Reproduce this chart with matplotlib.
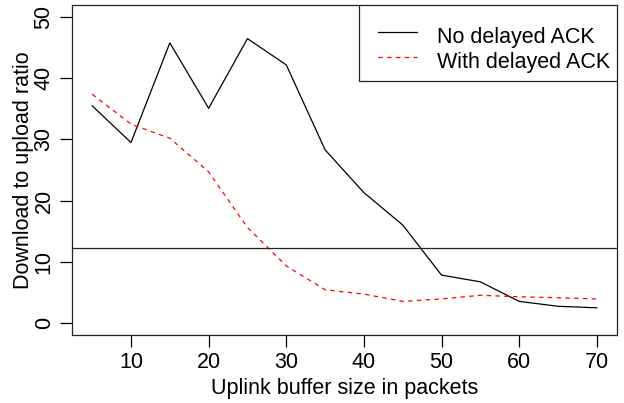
import numpy as np
import matplotlib.pyplot as plt
from matplotlib.patches import Rectangle

plt.rcParams["font.family"] = "Liberation Sans"

# buffer sizes (packets) and measured download/upload ratios
buffer_size = [5, 10, 15, 20, 25, 30, 35, 40, 45, 50, 55, 60, 65, 70]
no_delack = [35.5, 29.5, 45.8, 35.1, 46.5, 42.2, 28.3, 21.3, 16.0, 7.8, 6.7, 3.5, 2.7, 2.45]
with_delack = [37.4, 32.5, 30.2, 24.7, 15.6, 9.3, 5.4, 4.7, 3.5, 3.9, 4.5, 4.25, 4.1, 3.9]
ref_ratio = 12.3

series_names = ["No delayed ACK", "With delayed ACK"]
x_ticks = [10, 20, 30, 40, 50, 60, 70]
y_ticks = [0, 10, 20, 30, 40, 50]

fig = plt.figure(figsize=(6.24, 4.03), dpi=100)
ax = fig.add_axes([72/624, 1 - 335/403, 545/624, 330/403])

styles = [dict(color="black", lw=0.9), dict(color="red", lw=0.9, dashes=(3.5, 3.5))]
ax.plot(buffer_size, no_delack, **styles[0])
ax.plot(buffer_size, with_delack, **styles[1])
ax.axhline(ref_ratio, color="#222222", lw=0.9)

# R-style 4% padding around the data ranges
ax.set_xlim(5 - 0.04 * 65, 70 + 0.04 * 65)
ax.set_ylim(0 - 0.04 * 50, 50 + 0.04 * 50)
ax.set_xticks(x_ticks)
ax.set_yticks(y_ticks)
ax.tick_params(direction="out", length=8.5, width=0.9, labelsize=15.5, pad=4)
for lab in ax.get_yticklabels():
    lab.set_rotation(90)
    lab.set_verticalalignment("center")
for s in ax.spines.values():
    s.set_linewidth(0.9)
    s.set_color("#222222")

ax.set_xlabel("Uplink buffer size in packets", fontsize=15.5, labelpad=3)
ax.set_ylabel("Download to upload ratio", fontsize=15.5, labelpad=0)

# legend box in the top right corner, laid out like R's legend()
ax.add_patch(Rectangle((0.5266, 0.7697), 1 - 0.5266, 1 - 0.7697, transform=ax.transAxes,
                       facecolor="white", edgecolor="#222222", lw=0.9, zorder=5))
for i, (name, st) in enumerate(zip(series_names, styles)):
    yl = 0.919 - i * 0.0758
    ax.plot([0.5615, 0.6330], [yl, yl], transform=ax.transAxes, zorder=6, **st)
    ax.text(0.6697, yl - 0.035, name, transform=ax.transAxes, fontsize=15.5,
            va="baseline", ha="left", zorder=6)

fig.savefig("out.png", dpi=100)
